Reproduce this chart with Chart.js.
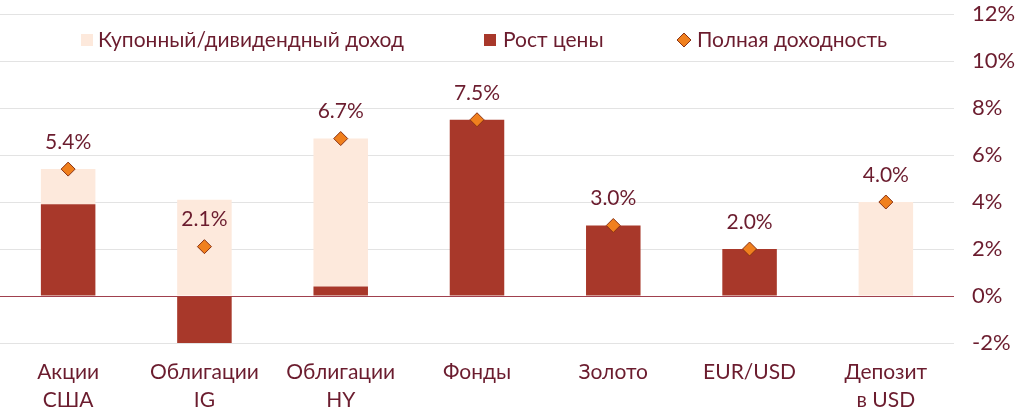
<!DOCTYPE html>
<html>
<head>
<meta charset="utf-8">
<script src="https://cdn.jsdelivr.net/npm/chart.js"></script>
<style>
  html, body { margin: 0; padding: 0; background: #fff; }
  #wrap { width: 1024px; height: 416px; }
</style>
</head>
<body>
<div id="wrap"><canvas id="chart"></canvas></div>
<script>
// ── DATA ──
const categories = [['Акции', 'США'], ['Облигации', 'IG'], ['Облигации', 'HY'], ['Фонды'], ['Золото'], ['EUR/USD'], ['Депозит', 'в USD']];
const couponIncome = [1.5, 4.1, 6.3, 0, 0, 0, 4.0];
const priceGrowth = [3.9, -2.0, 0.4, 7.5, 3.0, 2.0, 0];
const totalReturn = [5.4, 2.1, 6.7, 7.5, 3.0, 2.0, 4.0];
const yTicks = [-2, 0, 2, 4, 6, 8, 10, 12];

const seriesNames = ['Купонный/дивидендный доход', 'Рост цены', 'Полная доходность'];

const TEXT = '#6b1c2e';
const DARK = '#a8382a';
const LIGHT = '#fde9dc';
const ORANGE = '#f0801e';
const FONT = 'Lato, "Open Sans", sans-serif';

// labels above the diamonds
const valueLabels = {
  id: 'valueLabels',
  afterDatasetsDraw(chart) {
    const meta = chart.getDatasetMeta(2);
    const c = chart.ctx;
    c.save();
    c.font = '21px ' + FONT;
    c.fillStyle = TEXT;
    c.textAlign = 'center';
    c.textBaseline = 'middle';
    meta.data.forEach((pt, i) => {
      c.fillText(totalReturn[i].toFixed(1) + '%', pt.x, pt.y - 27);
    });
    c.restore();
  }
};

// legend drawn inside the plot area, like the original
const innerLegend = {
  id: 'innerLegend',
  afterDraw(chart) {
    const c = chart.ctx;
    const y = 40;
    c.save();
    c.font = '21px ' + FONT;
    c.textBaseline = 'middle';
    c.textAlign = 'left';
    // coupon
    c.fillStyle = LIGHT;
    c.fillRect(81, y - 6, 12, 12);
    c.fillStyle = TEXT;
    c.fillText(seriesNames[0], 98, y);
    // growth
    c.fillStyle = DARK;
    c.fillRect(484, y - 6, 12, 12);
    c.fillStyle = TEXT;
    c.fillText(seriesNames[1], 503, y);
    // total
    c.beginPath();
    c.moveTo(684, y - 7);
    c.lineTo(691, y);
    c.lineTo(684, y + 7);
    c.lineTo(677, y);
    c.closePath();
    c.fillStyle = ORANGE;
    c.fill();
    c.strokeStyle = '#8a3214';
    c.lineWidth = 1;
    c.stroke();
    c.fillStyle = TEXT;
    c.fillText(seriesNames[2], 697, y);
    c.restore();
  }
};

new Chart(document.getElementById('chart'), {
  type: 'bar',
  data: {
    labels: categories,
    datasets: [
      {
        label: seriesNames[1],
        data: priceGrowth,
        backgroundColor: DARK,
        stack: 'bars',
        categoryPercentage: 1,
        barPercentage: 0.4,
        order: 2
      },
      {
        label: seriesNames[0],
        data: couponIncome,
        backgroundColor: LIGHT,
        stack: 'bars',
        categoryPercentage: 1,
        barPercentage: 0.4,
        order: 2
      },
      {
        type: 'line',
        label: seriesNames[2],
        data: totalReturn,
        stack: 'total',
        showLine: false,
        pointStyle: 'rectRot',
        pointRadius: 7,
        pointHoverRadius: 7,
        pointBackgroundColor: ORANGE,
        pointBorderColor: '#8a3214',
        pointBorderWidth: 1,
        order: 1
      }
    ]
  },
  options: {
    responsive: true,
    maintainAspectRatio: false,
    animation: false,
    layout: { autoPadding: false, padding: { top: 14, left: 0, right: 0, bottom: 0 } },
    plugins: {
      legend: { display: false },
      tooltip: { enabled: false }
    },
    scales: {
      x: {
        stacked: true,
        grid: { display: false },
        border: { display: false },
        afterFit: axis => {
          axis.height = 73;
          axis.paddingLeft = 0;
          axis.paddingRight = 0;
        },
        ticks: {
          color: TEXT,
          font: { family: FONT, size: 21, lineHeight: 1.35 },
          padding: 7,
          maxRotation: 0,
          autoSkip: false
        }
      },
      y: {
        stacked: true,
        position: 'right',
        min: yTicks[0],
        max: yTicks[yTicks.length - 1],
        afterBuildTicks: axis => { axis.ticks = yTicks.map(v => ({ value: v })); },
        afterFit: axis => {
          axis.width = 70;
          axis.paddingTop = 0;
          axis.paddingBottom = 0;
        },
        border: { display: false },
        grid: {
          drawTicks: false,
          color: ctx => ctx.tick && ctx.tick.value === 0 ? '#a0404e' : '#e3e3e3',
          lineWidth: 1
        },
        ticks: {
          color: TEXT,
          font: { family: FONT, size: 22 },
          padding: 18,
          callback: v => v + '%'
        }
      }
    }
  },
  plugins: [valueLabels, innerLegend]
});
</script>
</body>
</html>
